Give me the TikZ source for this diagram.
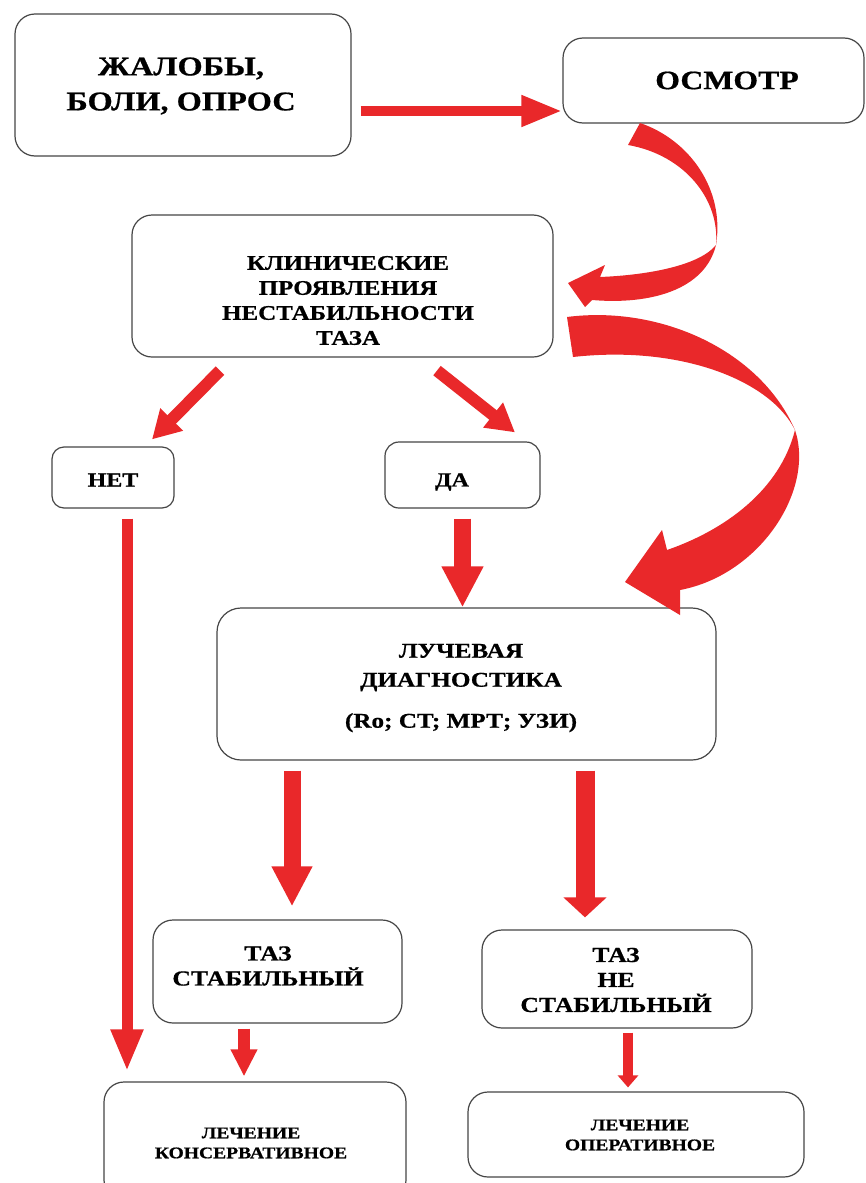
\documentclass[tikz,border=0pt]{standalone}
\usepackage{fontspec}
\setmainfont{Liberation Serif}[FakeStretch=1.2,FakeBold=0.7]
\usetikzlibrary{arrows.meta,calc}
\definecolor{ared}{RGB}{233,40,42}
\definecolor{bord}{RGB}{70,70,70}
\tikzset{
  box/.style={draw=bord, line width=1.2pt, rounded corners=#1, inner sep=0pt},
  box/.default=20pt,
  lbl/.style={align=center, inner sep=0pt},
  fat/.style={draw=ared, line width=#1, line cap=butt},
}
\newcommand{\fsz}[2]{\bfseries\fontsize{#1}{#2}\selectfont}
\begin{document}
\begin{tikzpicture}[x=1pt,y=-1pt]
\path[use as bounding box, fill=white] (0,0) rectangle (866,1183);
\clip (0,0) rectangle (866,1183);

% boxes
\node[box, minimum width=336pt, minimum height=142pt] (b1) at (183,85) {};
\node[box, minimum width=301pt, minimum height=85pt] (osm) at (713.5,80.5) {};
\node[box, minimum width=421pt, minimum height=142pt] (clin) at (342.5,286) {};
\node[box=12pt, minimum width=122pt, minimum height=61pt] (net) at (113,477.5) {};
\node[box=14pt, minimum width=155pt, minimum height=66pt] (da) at (462.5,475) {};
\node[box=24pt, minimum width=499pt, minimum height=152pt] (luch) at (466.5,684) {};
\node[box, minimum width=249pt, minimum height=103pt] (stab) at (277.5,971.5) {};
\node[box, minimum width=270pt, minimum height=98pt] (nestab) at (617,979) {};
\node[box, minimum width=302pt, minimum height=118pt] (kons) at (255,1141) {};
\node[box, minimum width=336pt, minimum height=85pt] (oper) at (636,1134.5) {};

% straight arrows
\draw[fat=10pt, -{Triangle[length=41pt,width=29pt]}]
  ([xshift=9pt,yshift=-26pt]b1.east) -- ([yshift=-30.5pt]osm.west);
\draw[fat=12pt, -{Triangle[length=28pt,width=30pt]}]
  ([xshift=-122.5pt,yshift=-13pt]clin.south) -- ([xshift=39pt,yshift=7pt]net.north);
\draw[fat=12pt, -{Triangle[length=28pt,width=30pt]}]
  ([xshift=94.5pt,yshift=-13pt]clin.south) -- ([xshift=52.5pt,yshift=9pt]da.north);
\draw[fat=11pt, -{Triangle[length=42pt,width=30pt]}]
  ([xshift=14pt,yshift=-10pt]net.south) -- ([xshift=-128pt,yshift=10pt]kons.north);
\draw[fat=17pt, -{Triangle[length=41pt,width=39pt]}]
  ([yshift=-10pt]da.south) -- (da.south |- luch.north);
\draw[fat=17pt, -{Triangle[length=40pt,width=38pt]}]
  ([xshift=-174.5pt,yshift=-10pt]luch.south) -- ([xshift=14.5pt,yshift=13pt]stab.north);
\draw[fat=19pt, -{Triangle[length=20pt,width=42pt]}]
  ([xshift=118.5pt,yshift=-10pt]luch.south) -- ([xshift=-32pt,yshift=12pt]nestab.north);
\draw[fat=12pt, -{Triangle[length=27pt,width=25pt]}]
  ([xshift=-33.5pt,yshift=-5pt]stab.south) -- ([xshift=-11pt,yshift=5pt]kons.north);
\draw[fat=10pt, -{Triangle[length=12pt,width=20pt]}]
  ([xshift=11pt,yshift=-4pt]nestab.south) -- ([xshift=-8pt,yshift=4pt]oper.north);

% curved arrow: osm -> clin
\fill[ared] (640,123) .. controls (690,140) and (725,190) .. (716,245)
  .. controls (705,290) and (650,305) .. (592,300)
  -- (585,307) -- (568,283) -- (605,265) -- (600,277)
  .. controls (650,275) and (700,265) .. (716,245)
  .. controls (720,200) and (685,155) .. (628,145) -- cycle;

% curved arrow: clin -> luch
\fill[ared] (567,317) .. controls (660,305) and (760,350) .. (795,430)
  .. controls (815,490) and (760,575) .. (680,590)
  -- (680,615) -- (625,582) -- (662,530) -- (667,550)
  .. controls (725,530) and (780,490) .. (795,430)
  .. controls (770,380) and (680,345) .. (573,357) -- cycle;

% texts
\node[lbl, font=\fsz{27}{35}] (t1) at (181,86) {ЖАЛОБЫ,\\БОЛИ, ОПРОС};
\node[lbl, font=\fsz{26.5}{30}] (tosm) at (727,80.5) {ОСМОТР};
\node[lbl, font=\fsz{20.8}{25}] (tclin) at (348,300.5) {КЛИНИЧЕСКИЕ\\ПРОЯВЛЕНИЯ\\НЕСТАБИЛЬНОСТИ\\ТАЗА};
\node[lbl, font=\fsz{20}{24}] (tnet) at (113,480) {НЕТ};
\node[lbl, font=\fsz{20}{24}] (tda) at (452,482) {ДА};
\node[lbl, font=\fsz{21}{29}] (tluch) at (461,688) {ЛУЧЕВАЯ\\ДИАГНОСТИКА\\[12pt](Ro; CT; МРТ; УЗИ)};
\node[lbl, font=\fsz{21.4}{25}] (tstab) at (268,966) {ТАЗ\\СТАБИЛЬНЫЙ};
\node[lbl, font=\fsz{21.4}{25}] (tnestab) at (616,980) {ТАЗ\\НЕ\\СТАБИЛЬНЫЙ};
\node[lbl, font=\fsz{16.3}{20}] (tkons) at (251,1143) {ЛЕЧЕНИЕ\\КОНСЕРВАТИВНОЕ};
\node[lbl, font=\fsz{16.3}{20}] (toper) at (640,1135) {ЛЕЧЕНИЕ\\ОПЕРАТИВНОЕ};
\end{tikzpicture}
\end{document}
